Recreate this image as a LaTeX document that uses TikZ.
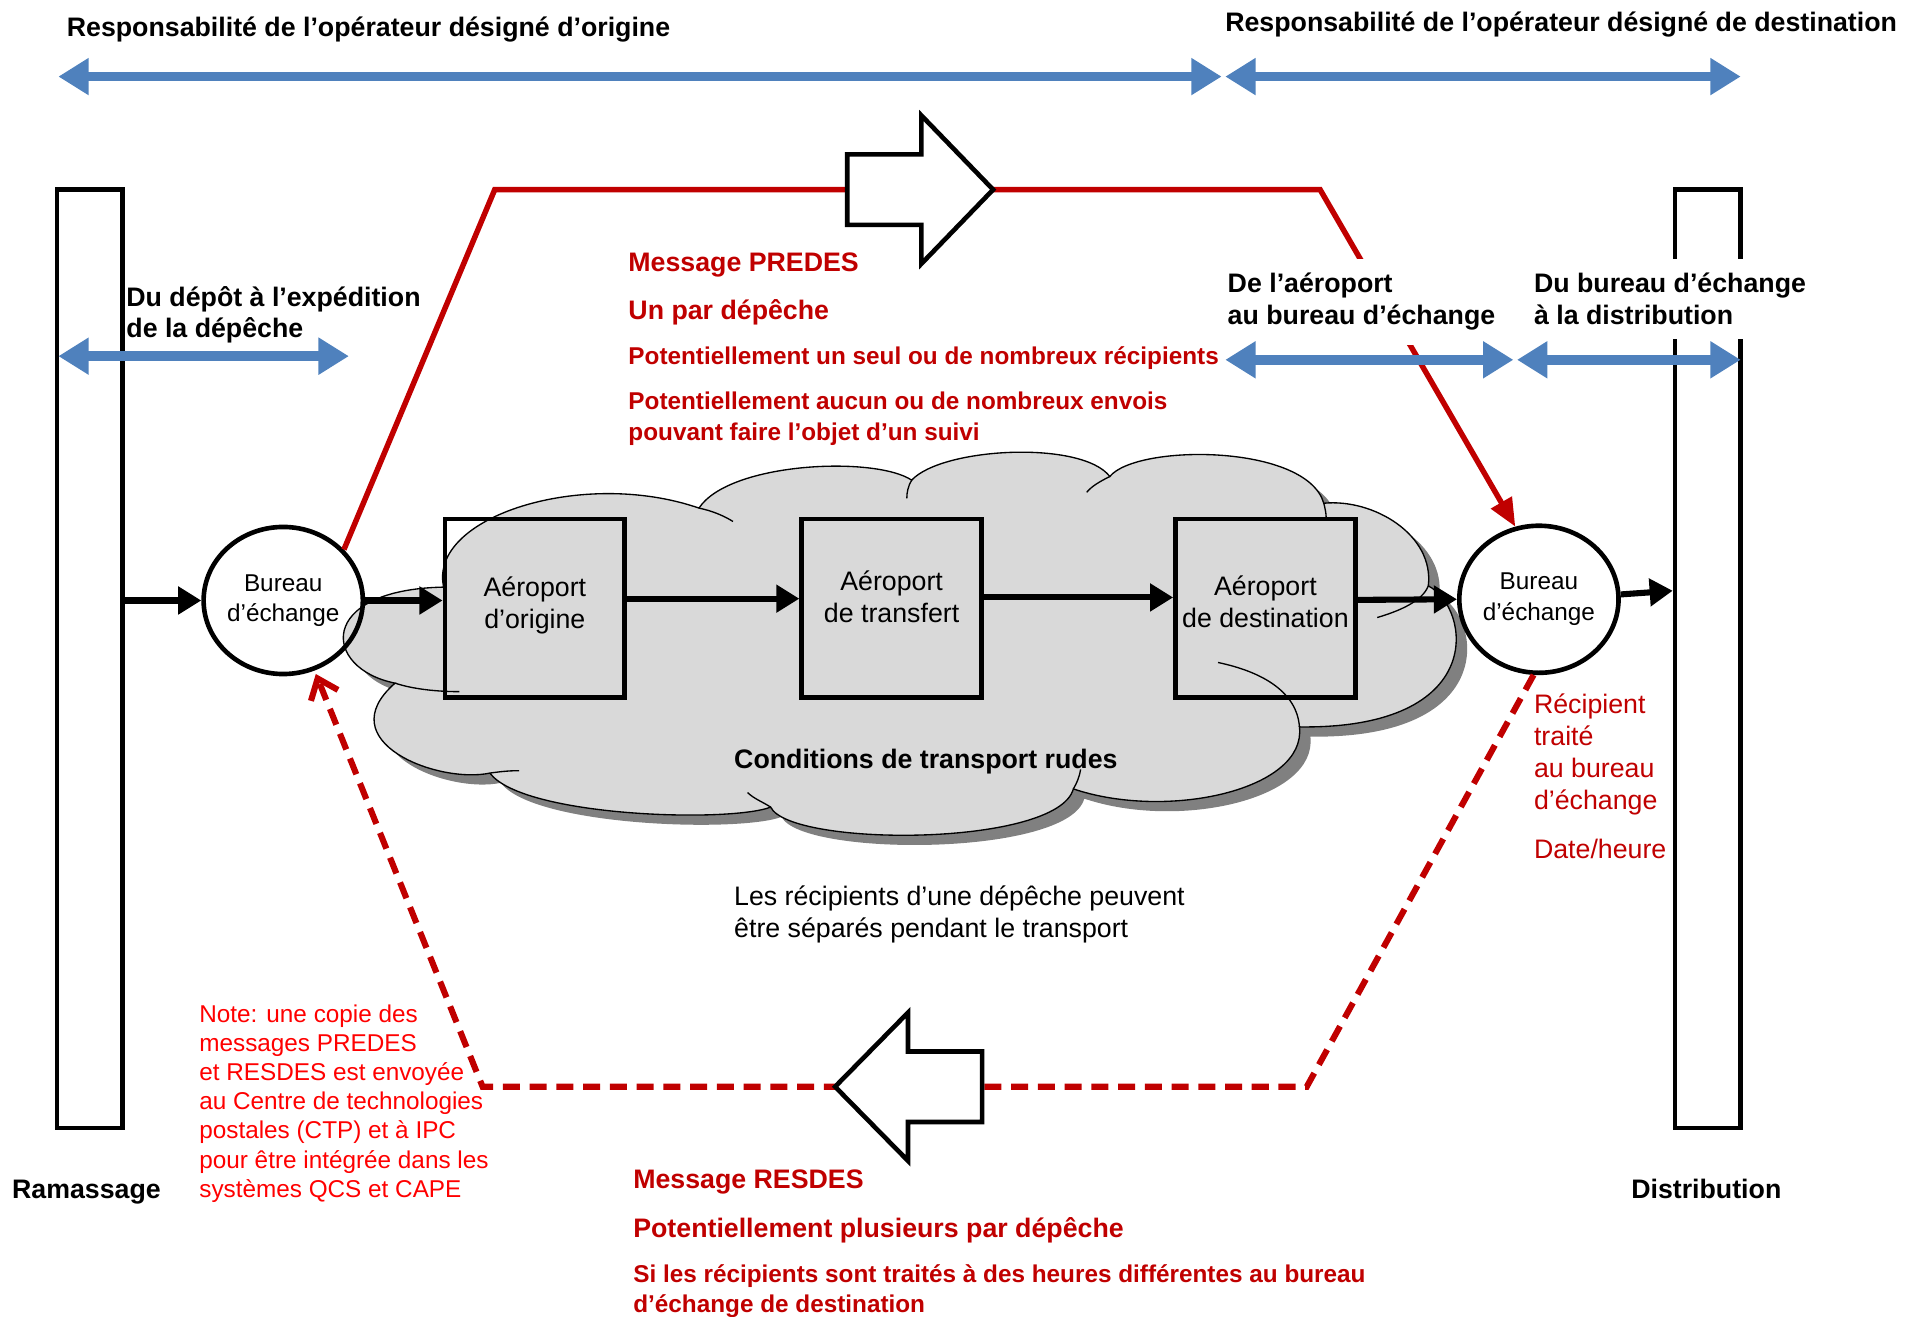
\documentclass[tikz,border=0pt]{standalone}
\usepackage{fontspec}
\setmainfont{Liberation Sans}
\usetikzlibrary{arrows.meta,calc,shapes.geometric}
\definecolor{dred}{HTML}{C00000}
\definecolor{bred}{HTML}{FF0000}
\definecolor{oblue}{HTML}{4F81BD}
\definecolor{cloudg}{HTML}{D9D9D9}
\definecolor{shadowg}{HTML}{808080}
\tikzset{
  txt/.style={inner sep=0pt, outer sep=0pt},
  bt22/.style={txt, font=\fontsize{22}{26}\selectfont\bfseries, anchor=base west, align=left},
  rt22/.style={bt22, text=dred},
  rt20/.style={txt, font=\fontsize{20}{25}\selectfont\bfseries, anchor=base west, align=left, text=dred},
  boxtxt/.style={txt, font=\fontsize{22}{26}\selectfont, anchor=base, align=center},
  bartall/.style={draw, line width=3.8pt, minimum width=54pt, minimum height=772pt, inner sep=0pt},
  airport/.style={draw, line width=3.8pt, minimum width=148pt, minimum height=147pt, inner sep=0pt},
  office/.style={ellipse, draw, line width=3.8pt, inner sep=0pt, minimum width=131pt, minimum height=121pt,
                 font=\fontsize{20}{25}\selectfont, align=center},
  flow/.style={line width=5pt, arrows={-Triangle[length=19pt,width=22pt]}},
  span/.style={oblue, line width=8pt, arrows={Triangle[length=25pt,width=29pt]-Triangle[length=25pt,width=29pt]}},
  predes/.style={dred, line width=4.5pt, arrows={-Triangle[length=23pt,width=19pt]}},
  resdes/.style={dred, line width=5pt, dash pattern=on 14pt off 8pt, arrows={-Straight Barb[length=15pt,width=24pt]}},
  blockarrow/.style={draw=black, fill=white, line width=3.8pt, line join=miter},
  cloudline/.style={black, line width=1.1pt},
}
\def\cloudpath{(365,483) .. controls (352,425) and (480,385) .. (575,418)
 .. controls (600,380) and (720,375) .. (750,395)
 .. controls (775,368) and (890,362) .. (913,392)
 .. controls (935,365) and (1075,365) .. (1089,414)
 .. controls (1130,410) and (1180,440) .. (1175,482)
 .. controls (1210,500) and (1225,600) .. (1069,598)
 .. controls (1075,650) and (960,675) .. (883,649)
 .. controls (870,697) and (650,697) .. (634,664)
 .. controls (600,677) and (430,672) .. (403,636)
 .. controls (360,645) and (270,610) .. (325,562)
 .. controls (265,550) and (260,485) .. (365,483) -- cycle}
\begin{document}
\begin{tikzpicture}[x=1pt,y=-1pt]
\useasboundingbox (0,0) rectangle (1568,1083);

% side bars
\node[bartall] (barL) at (74,542) {};
\node[bartall] (barR) at (1405,542) {};

% cloud
\fill[shadowg, shift={(9,8)}] \cloudpath;
\fill[cloudg] \cloudpath;
\draw[cloudline] \cloudpath;
\draw[cloudline] (575,418) .. controls (585,420) and (595,424) .. (603,429);
\draw[cloudline] (750,395) .. controls (747,400) and (746,405) .. (746,410);
\draw[cloudline] (913,392) .. controls (905,396) and (898,400) .. (894,405);
\draw[cloudline] (1089,414) .. controls (1090,418) and (1091,422) .. (1091,426);
\draw[cloudline] (1175,482) .. controls (1170,495) and (1150,503) .. (1133,508);
\draw[cloudline] (1069,598) .. controls (1067,570) and (1040,553) .. (1002,545);
\draw[cloudline] (883,649) .. controls (886,644) and (888,639) .. (889,633);
\draw[cloudline] (634,664) .. controls (628,660) and (620,657) .. (615,652);
\draw[cloudline] (403,636) .. controls (410,635) and (418,634) .. (427,634);
\draw[cloudline] (325,562) .. controls (340,567) and (360,569) .. (378,569);

% airports
\node[airport] (bo) at (440,500.5) {};
\node[airport] (bt) at (733.5,500.5) {};
\node[airport] (bd) at (1041,500.5) {};
\node[boxtxt] (bot) at (440,517) {Aéroport\\d’origine};
\node[boxtxt] (btt) at (733.5,512) {Aéroport\\de transfert};
\node[boxtxt] (bdt) at (1041,516) {Aéroport\\de destination};

% exchange offices
\node[office] (lc) at (233,494) {Bureau\\d’échange};
\node[office, fill=white] (rc) at (1266,493) {Bureau\\d’échange};

% flow arrows
\draw[flow] (barL.east |- lc.west) -- (lc.west);
\draw[flow] (lc.east) -- (lc.east -| bo.west);
\draw[flow] ($(bo.east)+(0,-8)$) -- ($(bt.west)+(0,-8)$);
\draw[flow] ($(bt.east)+(0,-9)$) -- ($(bd.west)+(0,-9)$);
\draw[flow] ($(bd.east)+(0,-7)$) -- (rc.west);
\draw[flow] ($(rc.east)+(0,-4)$) -- ($(barR.west)+(0,-56)$);

% PREDES message line
\coordinate (pa) at (407,156);
\coordinate (pb) at (1086,156);
\draw[predes] (lc.40) -- (pa) -- (pb) -- (rc.108);
\draw[blockarrow] (697,127) -- (758,127) -- (758,95) -- (817,156) -- (758,217) -- (758,185) -- (697,185) -- cycle;

% RESDES message line
\coordinate (qa) at (1075,894);
\coordinate (qb) at (397,894);
\draw[resdes, shorten >=3pt] (rc.266) -- (qa) -- (qb) -- (lc.294);
\draw[blockarrow] (808,865) -- (747,865) -- (747,833) -- (687,894) -- (747,955) -- (747,923) -- (808,923) -- cycle;

% headings
\node[bt22] (tl) at (55,30) {Responsabilité de l’opérateur désigné d’origine};
\node[bt22] (tr) at (1008,26) {Responsabilité de l’opérateur désigné de destination};
\node[bt22] (dd) at (104,278) {Du dépôt à l’expédition\\de la dépêche};
\node[bt22, fill=white, inner ysep=12pt, inner xsep=3pt] (da) at (1007,267) {De l’aéroport\\au bureau d’échange};
\node[bt22, fill=white, inner ysep=12pt, inner xsep=3pt] (db) at (1259,267) {Du bureau d’échange\\à la distribution};

% blue spans
\coordinate (s1) at (48,63);
\coordinate (s2) at (1005,63);
\coordinate (s3) at (1008,63);
\coordinate (s4) at (1432,63);
\coordinate (s5) at (48,293);
\coordinate (s6) at (287,293);
\coordinate (s7) at (1008,296);
\coordinate (s8) at (1245,296);
\coordinate (s9) at (1248,296);
\coordinate (s10) at (1432,296);
\draw[span] (s1) -- (s2);
\draw[span] (s3) -- (s4);
\draw[span] (s5) -- (s6);
\draw[span] (s7) -- (s8);
\draw[span] (s9) -- (s10);

% PREDES texts
\node[rt22] (mp) at (517,223) {Message PREDES};
\node[rt22] (up) at (517,263) {Un par dépêche};
\node[rt20] (p1) at (517,300) {Potentiellement un seul ou de nombreux récipients};
\node[rt20] (p2) at (517,362) {Potentiellement aucun ou de nombreux envois\\pouvant faire l’objet d’un suivi};

% cloud texts
\node[bt22] (cr) at (604,632) {Conditions de transport rudes};
\node[txt, font=\fontsize{22}{26}\selectfont, anchor=base west, align=left] (sep) at (604,771) {Les récipients d’une dépêche peuvent\\être séparés pendant le transport};

% right red texts
\node[txt, font=\fontsize{22}{26.3}\selectfont, anchor=base west, align=left, text=dred] (rt) at (1262,666) {Récipient\\traité\\au bureau\\d’échange};
\node[txt, font=\fontsize{22}{26}\selectfont, anchor=base west, text=dred] (dh) at (1262,706) {Date/heure};

% note
\node[txt, font=\fontsize{20}{24}\selectfont, anchor=base west, align=left, text=bred] (note) at (164,985) {Note: une copie des\\messages PREDES\\et RESDES est envoyée\\au Centre de technologies\\postales (CTP) et à IPC\\pour être intégrée dans les\\systèmes QCS et CAPE};

% RESDES texts
\node[rt22] (mr) at (521,978) {Message RESDES};
\node[rt22] (pp) at (521,1018) {Potentiellement plusieurs par dépêche};
\node[rt20] (si) at (521,1080) {Si les récipients sont traités à des heures différentes au bureau\\d’échange de destination};

% bottom labels
\node[bt22] (ram) at (10,986) {Ramassage};
\node[bt22] (dis) at (1342,986) {Distribution};
\end{tikzpicture}
\end{document}
